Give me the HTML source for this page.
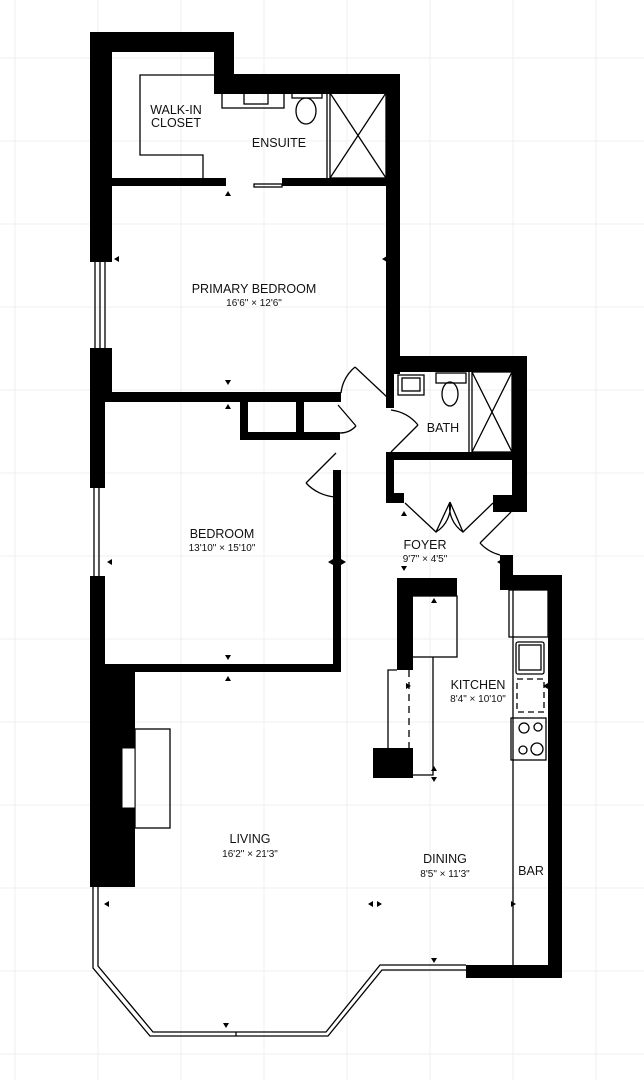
<!DOCTYPE html>
<html><head><meta charset="utf-8"><style>
html,body{margin:0;padding:0;background:#fff;}
svg{display:block;}
text{font-family:"Liberation Sans",sans-serif;fill:#111;text-anchor:middle;}
.l{font-size:12.5px;}
.s{font-size:10px;}
</style></head><body>
<svg width="644" height="1080" viewBox="0 0 644 1080" xmlns="http://www.w3.org/2000/svg">
<g stroke="#efefef" stroke-width="1">
<line x1="15" y1="0" x2="15" y2="1080"/><line x1="98" y1="0" x2="98" y2="1080"/><line x1="181" y1="0" x2="181" y2="1080"/><line x1="264" y1="0" x2="264" y2="1080"/><line x1="347" y1="0" x2="347" y2="1080"/><line x1="430" y1="0" x2="430" y2="1080"/><line x1="513" y1="0" x2="513" y2="1080"/><line x1="596" y1="0" x2="596" y2="1080"/>
<line x1="0" y1="58" x2="644" y2="58"/><line x1="0" y1="141" x2="644" y2="141"/><line x1="0" y1="224" x2="644" y2="224"/><line x1="0" y1="307" x2="644" y2="307"/><line x1="0" y1="390" x2="644" y2="390"/><line x1="0" y1="473" x2="644" y2="473"/><line x1="0" y1="556" x2="644" y2="556"/><line x1="0" y1="639" x2="644" y2="639"/><line x1="0" y1="722" x2="644" y2="722"/><line x1="0" y1="805" x2="644" y2="805"/><line x1="0" y1="888" x2="644" y2="888"/><line x1="0" y1="971" x2="644" y2="971"/><line x1="0" y1="1054" x2="644" y2="1054"/>
</g>
<g fill="#000">
<rect x="90" y="32" width="22" height="230"/>
<rect x="90" y="32" width="144" height="20"/>
<rect x="214" y="32" width="20" height="62"/>
<rect x="214" y="74" width="186" height="20"/>
<rect x="386" y="74" width="14" height="300"/>
<rect x="90" y="348" width="22" height="48"/>
<rect x="112" y="178" width="114" height="8"/>
<rect x="282" y="178" width="104" height="8"/>
<rect x="386" y="356" width="140" height="16"/>
<rect x="512" y="356" width="15" height="156"/>
<rect x="386" y="372" width="8" height="36"/>
<rect x="386" y="452" width="140" height="8"/>
<rect x="386" y="452" width="8" height="50"/>
<rect x="386" y="493" width="18" height="10"/>
<rect x="493" y="495" width="34" height="17"/>
<rect x="105" y="392" width="236" height="10"/>
<rect x="90" y="392" width="15" height="96"/>
<rect x="90" y="576" width="15" height="96"/>
<rect x="333" y="470" width="8" height="202"/>
<rect x="105" y="664" width="236" height="8"/>
<rect x="240" y="402" width="8" height="38"/>
<rect x="240" y="432" width="60" height="8"/>
<rect x="296" y="402" width="8" height="38"/>
<rect x="300" y="432" width="40" height="8"/>
<rect x="90" y="665" width="45" height="222"/>
<rect x="466" y="965" width="96" height="13"/>
<rect x="548" y="575" width="14" height="403"/>
<rect x="500" y="555" width="13" height="35"/>
<rect x="500" y="575" width="62" height="15"/>
<rect x="397" y="578" width="16" height="92"/>
<rect x="397" y="578" width="60" height="18"/>
<rect x="373" y="748" width="40" height="30"/>
</g>
<g fill="none" stroke="#000" stroke-width="1.3">
<path d="M95 262V348M100 262V348M105 262V348"/>
<path d="M94 488V576M99 488V576"/>
<path d="M93 887V968L150 1036H328L382 970H466M98 887V966L153 1032H326L380 965H466"/>
<line x1="236" y1="1032" x2="236" y2="1036"/>
<path d="M214 75H140V155H203V178"/>
<rect x="222" y="88" width="62" height="20"/><rect x="244" y="90" width="24" height="14"/>
<rect x="292" y="88" width="30" height="10"/><ellipse cx="306" cy="111" rx="10" ry="13"/>
<rect x="330" y="93" width="56" height="85"/><path d="M330 93L386 178M386 93L330 178"/>
<line x1="327" y1="93" x2="327" y2="178"/>
<rect x="254" y="184" width="28" height="3"/>
<rect x="398" y="375" width="26" height="20"/><rect x="402" y="378" width="18" height="13"/>
<rect x="436" y="373" width="30" height="10"/><ellipse cx="450" cy="394" rx="8" ry="12"/>
<rect x="472" y="372" width="40" height="80"/><path d="M472 372L512 452M512 372L472 452"/>
<line x1="469" y1="372" x2="469" y2="452"/>
<path d="M387 397L355 367M355 367A40 40 0 0 0 341 393"/>
<path d="M338 405L356 426M356 426A22 22 0 0 1 340 433"/>
<path d="M336 453L306 483M306 483A44 44 0 0 0 336 497"/>
<path d="M391 452L418 425M391 410A42 42 0 0 1 418 425"/>
<path d="M405 503L436 532L450 502M450 502A30 30 0 0 1 436 532M493 503L463 532L450 502M450 502A30 30 0 0 0 463 532"/>
<path d="M511 512L480 543M480 543A40 40 0 0 0 500 555"/>
<rect x="410" y="596" width="47" height="61"/>
<path d="M388 775V670H397M433 657V775H413"/>
<path d="M409 670V748" stroke-dasharray="7,5"/>
<path d="M513 590V965"/>
<rect x="509" y="590" width="39" height="47"/>
<rect x="516" y="642" width="28" height="32" rx="2"/><rect x="519" y="645" width="22" height="25"/>
<rect x="517" y="679" width="27" height="33" stroke-dasharray="6,4"/>
<rect x="511" y="718" width="35" height="42"/>
<circle cx="524" cy="728" r="5"/><circle cx="538" cy="727" r="4"/><circle cx="523" cy="750" r="4"/><circle cx="537" cy="749" r="6"/>
<rect x="135" y="729" width="35" height="99"/>
</g>
<rect x="122" y="748" width="13" height="60" fill="#fff" stroke="#000"/>
<g fill="#000">
<path d="M228 191l-3 5h6z"/><path d="M382 259l5 -3v6z"/><path d="M114 259l5 -3v6z"/>
<path d="M228 385l-3 -5h6z"/><path d="M228 404l-3 5h6z"/>
<path d="M107 562l5 -3v6z"/><path d="M328 562l5 -3v6z"/><path d="M346 562l-5 -3v6z"/>
<path d="M228 660l-3 -5h6z"/><path d="M228 676l-3 5h6z"/>
<path d="M404 511l-3 5h6z"/><path d="M497 562l5 -3v6z"/>
<path d="M404 571l-3 -5h6z"/><path d="M434 598l-3 5h6z"/><path d="M411 686l-5 -3v6z"/><path d="M543 686l5 -3v6z"/>
<path d="M434 766l-3 5h6z"/><path d="M434 782l-3 -5h6z"/>
<path d="M104 904l5 -3v6z"/><path d="M368 904l5 -3v6z"/><path d="M382 904l-5 -3v6z"/><path d="M516 904l-5 -3v6z"/>
<path d="M434 963l-3 -5h6z"/><path d="M226 1028l-3 -5h6z"/>
</g>
<text class="l" x="176" y="114">WALK-IN</text><text class="l" x="176" y="127">CLOSET</text>
<text class="l" x="279" y="147">ENSUITE</text>
<text class="l" x="254" y="293">PRIMARY BEDROOM</text><text class="s" x="254" y="306">16'6" × 12'6"</text>
<text class="l" x="222" y="538">BEDROOM</text><text class="s" x="222" y="551">13'10" × 15'10"</text>
<text class="l" x="443" y="432">BATH</text>
<text class="l" x="425" y="549">FOYER</text><text class="s" x="425" y="562">9'7" × 4'5"</text>
<text class="l" x="478" y="689">KITCHEN</text><text class="s" x="478" y="702">8'4" × 10'10"</text>
<text class="l" x="250" y="843">LIVING</text><text class="s" x="250" y="857">16'2" × 21'3"</text>
<text class="l" x="445" y="863">DINING</text><text class="s" x="445" y="877">8'5" × 11'3"</text>
<text class="l" x="531" y="875">BAR</text>
</svg>
</body></html>
